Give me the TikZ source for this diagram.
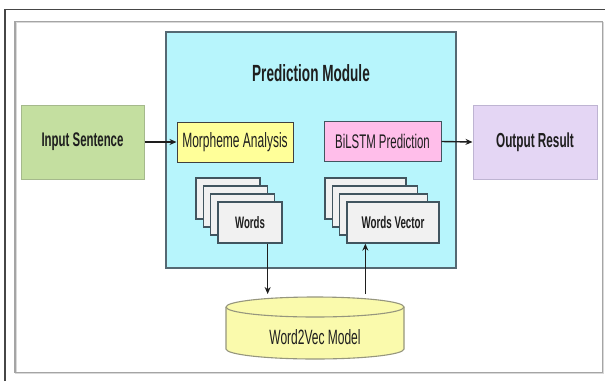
\documentclass[tikz,border=0pt]{standalone}
\usepackage{fontspec}
\setmainfont{Liberation Sans}[FakeStretch=0.58]
\usetikzlibrary{arrows.meta}
\definecolor{txt}{RGB}{30,30,30}
\definecolor{framedark}{RGB}{70,70,70}
\definecolor{framelight}{RGB}{165,165,165}
\definecolor{greenfill}{RGB}{196,223,160}
\definecolor{greenline}{RGB}{165,185,140}
\definecolor{cyanfill}{RGB}{183,245,252}
\definecolor{cyanline}{RGB}{85,105,115}
\definecolor{yellowfill}{RGB}{255,255,153}
\definecolor{pinkfill}{RGB}{255,190,234}
\definecolor{lavfill}{RGB}{228,214,244}
\definecolor{lavline}{RGB}{190,180,210}
\definecolor{sheetfill}{RGB}{241,241,241}
\definecolor{sheetline}{RGB}{65,85,95}
\definecolor{cylfill}{RGB}{250,250,172}
\definecolor{cylline}{RGB}{150,150,125}
\begin{document}
\begin{tikzpicture}[x=1pt,y=1pt,
  every node/.style={text=txt, inner sep=0pt},
  bigbox/.style={draw, line width=1pt, minimum width=#1},
  smallbox/.style={draw=black!75, line width=1pt, minimum height=40},
  sheet/.style={draw=sheetline, fill=sheetfill, line width=1.3pt, minimum height=41},
  arr/.style={draw=txt, line width=1.4pt, -{Stealth[length=7pt,width=6pt]}},
  fb/.style={font=\bfseries\fontsize{#1}{#1}\selectfont},
  fr/.style={font=\fontsize{#1}{#1}\selectfont}]
\useasboundingbox (0,0) rectangle (605,-381);
\fill[white] (0,0) rectangle (605,-381);
% frames
\draw[framedark, line width=1.2pt] (5,-381) -- (5,-9.7) -- (605,-9.7);
\draw[black!15, line width=1.5pt] (16,-22.5) rectangle (603.5,-373.5);
\draw[framelight, line width=1.2pt] (15,-21.5) rectangle (602.5,-372.5);
% prediction module
\node[draw=cyanline, fill=cyanfill, line width=1.2pt, minimum width=290, minimum height=236] (pm) at (311,-150) {};
\node[fb=23.4] (title) at (311,-73) {Prediction Module};
% side boxes
\node[bigbox=123, draw=greenline, fill=greenfill, minimum height=74, fb=19.7] (in) at (82.5,-142) {Input Sentence};
\node[bigbox=124, draw=lavline, fill=lavfill, minimum height=74, fb=20.3] (out) at (535,-142) {Output Result};
\node[smallbox, fill=yellowfill, minimum width=116, fr=20.7] (ma) at (235,-142) {Morpheme Analysis};
\node[smallbox, draw=sheetline, fill=pinkfill, minimum width=117, fr=19.7] (bp) at (382.5,-141.5) {BiLSTM Prediction};
% words stack
\node[sheet, minimum width=64] (w1) at (228.1,-198.5) {};
\node[sheet, minimum width=64] (w2) at (235.4,-206.5) {};
\node[sheet, minimum width=64] (w3) at (242.7,-214.5) {};
\node[sheet, minimum width=64, fb=16.6] (words) at (250,-222.5) {Words};
% words vector stack
\node[sheet, minimum width=81] (v1) at (365.5,-198.5) {};
\node[sheet, minimum width=85] (v2) at (374.8,-206.5) {};
\node[sheet, minimum width=88] (v3) at (383.7,-214.5) {};
\node[sheet, minimum width=92, fb=16.9] (wv) at (393,-222.5) {Words Vector};
% cylinder
\fill[cylfill] (226,-307) -- (226,-349) arc[start angle=180,end angle=360,x radius=89,y radius=10]
  -- (404,-307) arc[start angle=0,end angle=180,x radius=89,y radius=10] -- cycle;
\draw[cylline, line width=1.1pt] (226,-307) -- (226,-349) arc[start angle=180,end angle=360,x radius=89,y radius=10]
  -- (404,-307) arc[start angle=0,end angle=180,x radius=89,y radius=10];
\draw[cylline, line width=1.1pt] (226,-307) arc[start angle=180,end angle=360,x radius=89,y radius=10];
\node[fr=20.7] (w2v) at (315,-337) {Word2Vec Model};
\coordinate (cyltop) at (315,-294);
% connectors
\draw[arr] (in.east) -- (ma.west);
\draw[arr] (bp.east) -- (out.west);
\draw[arr] ([xshift=-15pt]words.south east) -- ([xshift=-15pt]words.south east |- cyltop);
\draw[arr] ([xshift=19pt]wv.south west |- cyltop) -- ([xshift=19pt]wv.south west);
\end{tikzpicture}
\end{document}
